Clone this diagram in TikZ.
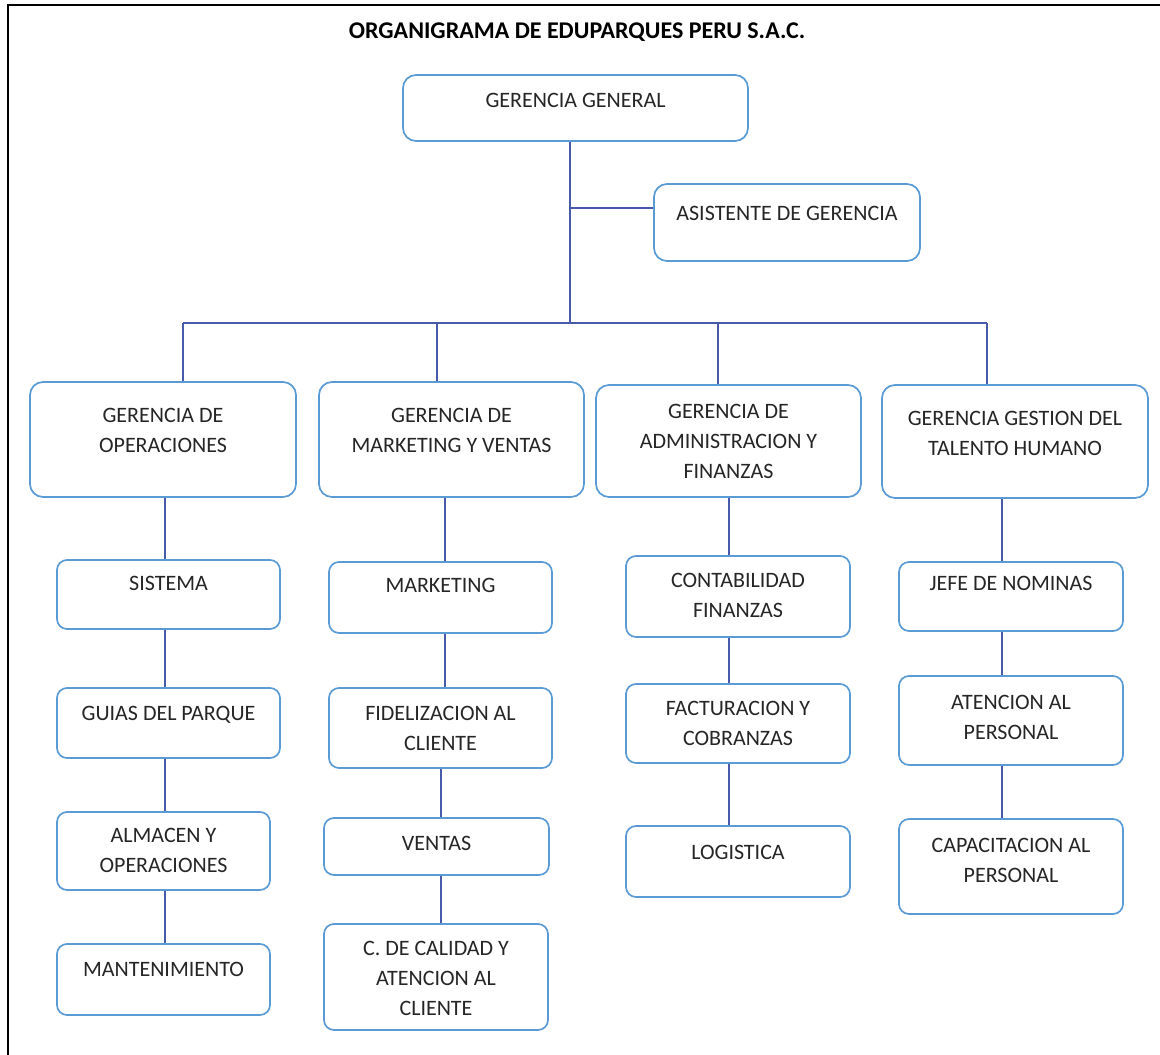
\documentclass[tikz,border=0pt]{standalone}
\usepackage{fontspec}
\setmainfont{Carlito}
\usepackage{xcolor}
\usepackage{tikz}
\definecolor{bordecaja}{RGB}{91,155,213}
\definecolor{linea}{RGB}{72,90,170}
\newcommand{\caja}[4][11pt]{\parbox[c][#3][t]{#2}{\centering\vspace*{#1}\strut #4}}
\tikzset{
  caja/.style={draw=bordecaja,line width=1.7pt,rounded corners=13pt,fill=white,inner sep=0pt,
    font=\fontsize{22}{30}\selectfont\color{black!85}},
  cajita/.style={caja,rounded corners=10pt},
  enlace/.style={draw=linea,line width=2pt}
}
\begin{document}
\begin{tikzpicture}[x=1pt,y=-1pt]
    \useasboundingbox (0,0) rectangle (1160,1055);
        \draw[line width=2.5pt,black] (8,1055)--(8,5)--(1160,5);
        \node (titulo) at (577,32) {\fontsize{24}{28}\selectfont\bfseries ORGANIGRAMA DE EDUPARQUES PERU S.A.C.};
        \coordinate (tronco) at (570,323);
        \coordinate (b1) at (183,323);
        \coordinate (b2) at (437,323);
        \coordinate (b3) at (718,323);
        \coordinate (b4) at (987,323);
        \coordinate (e1) at (165,0);
        \coordinate (e2) at (445,0);
        \coordinate (e2b) at (441,0);
        \coordinate (e3) at (729,0);
        \coordinate (e4) at (1002,0);
        \node at (575.5,108)[caja] (gg) {\caja{345pt}{66pt}{GERENCIA GENERAL}};
        \node at (787,222.5)[caja] (asis) {\caja[15pt]{266pt}{77pt}{ASISTENTE DE GERENCIA}};
        \node at (163,439.5)[caja] (gop) {\caja[19pt]{266pt}{115pt}{GERENCIA DE\\OPERACIONES}};
        \node at (451.5,439.5)[caja] (gmv) {\caja[19pt]{265pt}{115pt}{GERENCIA DE\\MARKETING Y VENTAS}};
        \node at (728.5,441)[caja] (gaf) {\caja[12pt]{265pt}{112pt}{GERENCIA DE\\ADMINISTRACION Y\\FINANZAS}};
        \node at (1015,441.5)[caja] (gth) {\caja[19pt]{266pt}{113pt}{GERENCIA GESTION DEL\\TALENTO HUMANO}};
        \node at (168.5,594.5)[cajita] (sis) {\caja[9pt]{223pt}{69pt}{SISTEMA}};
        \node at (168.5,723)[cajita] (gui) {\caja{223pt}{70pt}{GUIAS DEL PARQUE}};
        \node at (163.5,851)[cajita] (alm) {\caja[9pt]{213pt}{78pt}{ALMACEN Y\\OPERACIONES}};
        \node at (163.5,979.5)[cajita] (man) {\caja{213pt}{71pt}{MANTENIMIENTO}};
        \node at (440.5,597.5)[cajita] (mkt) {\caja[9pt]{223pt}{71pt}{MARKETING}};
        \node at (440.5,728)[cajita] (fid) {\caja{223pt}{80pt}{FIDELIZACION AL\\CLIENTE}};
        \node at (436.5,846.5)[cajita] (ven) {\caja{225pt}{57pt}{VENTAS}};
        \node at (436,977)[cajita] (cal) {\caja[10pt]{224pt}{106pt}{C. DE CALIDAD Y\\ATENCION AL\\CLIENTE}};
        \node at (738,596.5)[cajita] (con) {\caja[10pt]{224pt}{81pt}{CONTABILIDAD\\FINANZAS}};
        \node at (738,723.5)[cajita] (fac) {\caja[10pt]{224pt}{79pt}{FACTURACION Y\\COBRANZAS}};
        \node at (738,861.5)[cajita] (log) {\caja[12pt]{224pt}{71pt}{LOGISTICA}};
        \node at (1011,596.5)[cajita] (jef) {\caja[7pt]{224pt}{69pt}{JEFE DE NOMINAS}};
        \node at (1011,720.5)[cajita] (ate) {\caja[12pt]{224pt}{89pt}{ATENCION AL\\PERSONAL}};
        \node at (1011,866.5)[cajita] (cap) {\caja[12pt]{224pt}{95pt}{CAPACITACION AL\\PERSONAL}};
        \draw[enlace] (gg.south -| tronco)--(tronco);
        \draw[enlace] (asis.174)--(asis.174 -| tronco);
        \draw[enlace] (b1)--(b4);
        \draw[enlace] (b1)--(b1 |- gop.north);
        \draw[enlace] (b2)--(b2 |- gmv.north);
        \draw[enlace] (b3)--(b3 |- gaf.north);
        \draw[enlace] (b4)--(b4 |- gth.north);
        \draw[enlace] (gop.south -| e1)--(sis.north -| e1);
        \draw[enlace] (sis.south -| e1)--(gui.north -| e1);
        \draw[enlace] (gui.south -| e1)--(alm.north -| e1);
        \draw[enlace] (alm.south -| e1)--(man.north -| e1);
        \draw[enlace] (gmv.south -| e2)--(mkt.north -| e2);
        \draw[enlace] (mkt.south -| e2)--(fid.north -| e2);
        \draw[enlace] (fid.south -| e2b)--(ven.north -| e2b);
        \draw[enlace] (ven.south -| e2b)--(cal.north -| e2b);
        \draw[enlace] (gaf.south -| e3)--(con.north -| e3);
        \draw[enlace] (con.south -| e3)--(fac.north -| e3);
        \draw[enlace] (fac.south -| e3)--(log.north -| e3);
        \draw[enlace] (gth.south -| e4)--(jef.north -| e4);
        \draw[enlace] (jef.south -| e4)--(ate.north -| e4);
        \draw[enlace] (ate.south -| e4)--(cap.north -| e4);
    \end{tikzpicture}
\end{document}
